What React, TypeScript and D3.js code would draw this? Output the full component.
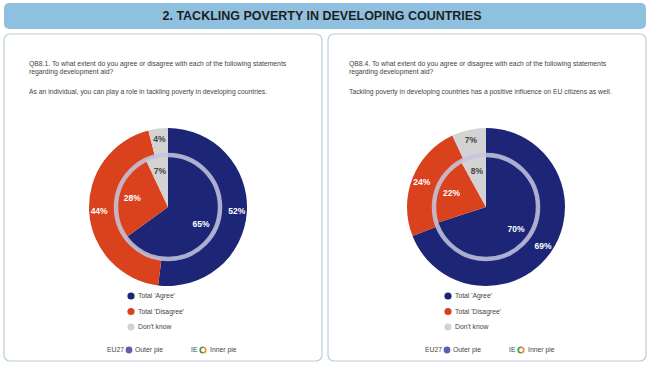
import React from 'react';
import * as d3 from 'd3';

const categories = ["Total 'Agree'", "Total 'Disagree'", "Don't know"];
const questionIds = ['QB8.1.', 'QB8.4.'];
const questionText = 'To what extent do you agree or disagree with each of the following statements';
const statements = [
  'As an individual, you can play a role in tackling poverty in developing countries.',
  'Tackling poverty in developing countries has a positive influence on EU citizens as well.',
];
const outerEU27 = [[52, 44, 4], [69, 24, 7]];
const innerIE = [[65, 28, 7], [70, 22, 8]];

const colors = ['#1d2676', '#d9421d', '#d3d3d3'];
const labelColors = ['#ffffff', '#ffffff', '#444444'];

const W = 650;
const H = 367;
const R = 79;
const ringR = 52;

const pie = d3.pie<number>().sort(null).value((d) => d);
const outerArc = d3.arc<d3.PieArcDatum<number>>().innerRadius(ringR).outerRadius(R);
const innerArc = d3.arc<d3.PieArcDatum<number>>().innerRadius(0).outerRadius(ringR);
const outerLabel = d3.arc<d3.PieArcDatum<number>>().innerRadius(69).outerRadius(69);
const innerLabel = d3.arc<d3.PieArcDatum<number>>().innerRadius(37).outerRadius(37);

const Panel = ({ i, x0 }: { i: number; x0: number }) => {
  const cx = i === 0 ? 168 : 486;
  const cy = 207;
  const tx = i === 0 ? 29 : 349;
  const lx = i === 0 ? 131 : 448;
  const bx = i === 0 ? 107 : 425;
  const outer = pie(outerEU27[i]);
  const inner = pie(innerIE[i]);
  const txt = { fontFamily: 'Liberation Sans, Arial, sans-serif', fontSize: 6.8, fill: '#444' };
  const pct = { fontFamily: 'Liberation Sans Narrow, Liberation Sans, Arial', fontSize: 8.5, fontWeight: 700 } as any;
  return (
    <g>
      <rect x={x0} y={34} width={318} height={327} rx={6} fill="#fff" stroke="#b9cdd8" strokeWidth={1.2} />
      <text x={tx} y={66} {...txt}>{questionIds[i] + ' ' + questionText}</text>
      <text x={tx} y={73.5} {...txt}>regarding development aid?</text>
      <text x={tx} y={94} {...txt}>{statements[i]}</text>
      <g transform={`translate(${cx},${cy})`}>
        {outer.map((d, k) => (
          <path key={'o' + k} d={outerArc(d) || ''} fill={colors[k]} />
        ))}
        {inner.map((d, k) => (
          <path key={'i' + k} d={innerArc(d) || ''} fill={colors[k]} />
        ))}
        <circle r={ringR} fill="none" stroke="#c4c5df" strokeOpacity={0.85} strokeWidth={4.5} />
        {outer.map((d, k) => {
          const [x, y] = outerLabel.centroid(d);
          return (
            <text key={'ol' + k} x={x} y={y} dy="0.35em" textAnchor="middle" fill={labelColors[k]} {...pct}>
              {d.data}%
            </text>
          );
        })}
        {inner.map((d, k) => {
          const [x, y] = innerLabel.centroid(d);
          return (
            <text key={'il' + k} x={x} y={y} dy="0.35em" textAnchor="middle" fill={labelColors[k]} {...pct}>
              {d.data}%
            </text>
          );
        })}
      </g>
      {categories.map((c, k) => (
        <g key={c} transform={`translate(${lx},${296 + k * 15.5})`}>
          <circle r={3.6} fill={colors[k]} />
          <text x={7} y={0} dy="0.35em" {...txt}>{c}</text>
        </g>
      ))}
      <g transform={`translate(${bx},350)`}>
        <text x={0} y={0} dy="0.35em" {...txt}>EU27</text>
        <circle cx={22} cy={0} r={3.4} fill="#5b5fb3" />
        <text x={28} y={0} dy="0.35em" {...txt}>Outer pie</text>
        <text x={84} y={0} dy="0.35em" {...txt}>IE</text>
        <circle cx={96} cy={0} r={3.4} fill="#fff" />
        <path d={d3.arc()({ innerRadius: 2, outerRadius: 3.6, startAngle: Math.PI, endAngle: 2 * Math.PI }) || ''} transform="translate(96,0)" fill="#3a9b3a" />
        <path d={d3.arc()({ innerRadius: 2, outerRadius: 3.6, startAngle: 0, endAngle: Math.PI }) || ''} transform="translate(96,0)" fill="#f08a24" />
        <text x={103} y={0} dy="0.35em" {...txt}>Inner pie</text>
      </g>
    </g>
  );
};

export default function App() {
  return (
    <svg width={W} height={H} style={{ position: 'absolute', left: 0, top: 0, background: '#fff' }}>
      <rect x={4} y={3} width={642} height={26} rx={5} fill="#90c0e0" />
      <text x={322} y={16} dy="0.35em" textAnchor="middle" fontFamily="Liberation Sans, Arial, sans-serif" fontWeight={700} fontSize={12.5} fill="#1e1e1e">
        2. TACKLING POVERTY IN DEVELOPING COUNTRIES
      </text>
      <Panel i={0} x0={4} />
      <Panel i={1} x0={328} />
    </svg>
  );
}
